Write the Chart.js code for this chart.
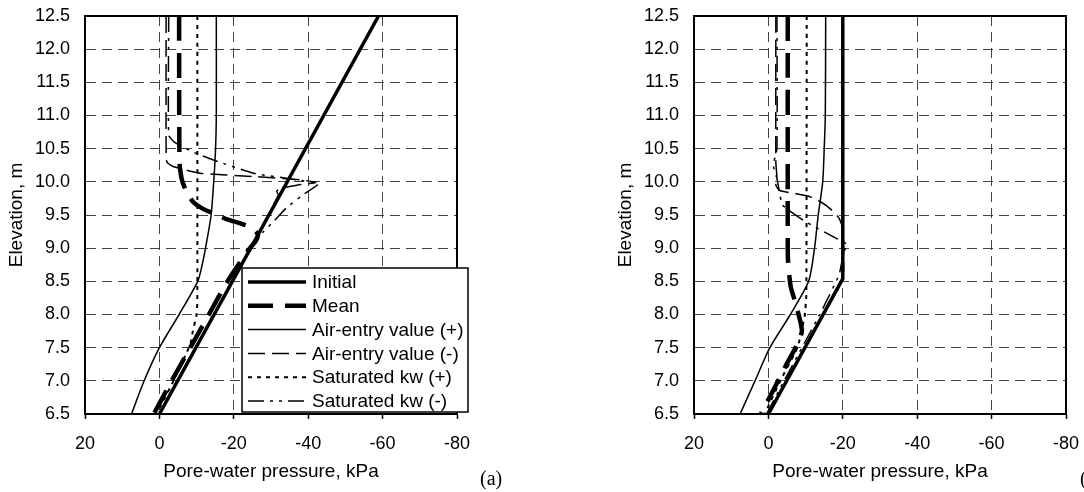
<!DOCTYPE html>
<html>
<head>
<meta charset="utf-8">
<title>Pore-water pressure profiles</title>
<script src="https://cdn.jsdelivr.net/npm/chart.js@4.4.1/dist/chart.umd.min.js"></script>
<style>
  body { margin: 0; background: #fff; width: 1084px; height: 492px; overflow: hidden; position: relative; }
  canvas { position: absolute; top: 0; }
  #chartA { left: 0; }
  #chartB { left: 609px; }
</style>
</head>
<body>
<canvas id="chartA" width="540" height="492"></canvas>
<canvas id="chartB" width="475" height="492"></canvas>
<script>
// series labels, in legend order
const seriesLabels = ['Initial', 'Mean', 'Air-entry value (+)', 'Air-entry value (-)', 'Saturated kw (+)', 'Saturated kw (-)'];

// axis limits (kPa, m)
const pwpMin = -80, pwpMax = 20, pwpStep = 20;
const elevMin = 6.5, elevMax = 12.5, elevStep = 0.5;

// ---- case (a) ----
const initialElevA = [6.5, 12.5];
const initialPwpA  = [0, -58.9];

const meanElevA = [12.5, 10.3, 10.1, 10.0, 9.85, 9.7, 9.6, 9.5, 9.43, 9.37, 9.3, 9.2, 9.1, 9.0, 8.5, 8.0, 7.5, 7.0, 6.5];
const meanPwpA  = [-5.3, -5.4, -5.8, -6.2, -7.3, -9.0, -11.5, -15.5, -18.4, -22.0, -25.0, -26.5, -25.8, -24.3, -18.3, -13.3, -8.3, -3.3, 1.5];

const aevPlusElevA = [12.5, 11.0, 10.5, 10.0, 9.5, 9.0, 8.75, 8.5, 8.0, 7.5, 7.0, 6.5];
const aevPlusPwpA  = [-15.3, -15.3, -15.1, -14.6, -13.9, -12.4, -11.5, -10.3, -5.3, 0, 4.1, 7.5];

const aevMinusElevA = [12.5, 10.5, 10.3, 10.23, 10.13, 10.08, 10.03, 9.99, 9.95, 9.9, 9.86, 9.8, 9.0, 8.0, 7.0, 6.5];
const aevMinusPwpA  = [-1.8, -1.8, -2.0, -3.7, -10.9, -25.2, -38.0, -42.0, -37.0, -32.5, -31.5, -32.0, -24.3, -14.5, -4.7, 0];

const kwPlusElevA = [12.5, 8.2, 8.0, 7.75, 7.55, 7.0, 6.5];
const kwPlusPwpA  = [-10.2, -10.2, -10.0, -9.0, -8.3, -3.8, 0.8];

const kwMinusElevA = [12.5, 10.7, 10.6, 10.45, 10.33, 10.13, 10.03, 9.97, 9.8, 9.6, 9.42, 9.25, 9.1, 8.0, 7.0, 6.5];
const kwMinusPwpA  = [-2.5, -2.5, -4.0, -9.0, -14.5, -25.3, -37.0, -42.7, -38.5, -34.0, -31.0, -28.0, -25.8, -14.7, -4.9, 0];

// ---- case (b) ----
const initialElevB = [6.5, 8.54, 12.5];
const initialPwpB  = [0, -20, -20];

const meanElevB = [12.5, 9.0, 8.8, 8.42, 8.19, 7.77, 7.6, 7.22, 7.0, 6.5];
const meanPwpB  = [-5.2, -5.2, -5.3, -6.0, -7.2, -9.0, -8.2, -4.6, -2.6, 2.0];

const aevPlusElevB = [12.5, 11.0, 10.5, 10.0, 9.5, 9.0, 8.5, 8.0, 7.5, 7.0, 6.5];
const aevPlusPwpB  = [-15.4, -15.3, -15.0, -14.6, -13.4, -12.4, -10.8, -5.9, -0.4, 3.6, 7.6];

const aevMinusElevB = [12.5, 10.3, 10.05, 9.95, 9.87, 9.83, 9.78, 9.7, 9.6, 9.45, 9.3, 8.55, 8.0, 7.0, 6.5];
const aevMinusPwpB  = [-2.0, -2.0, -2.3, -2.0, -3.0, -6.5, -11.0, -14.0, -16.5, -19.0, -20.0, -20.0, -14.7, -4.9, 0];

const kwPlusElevB = [12.5, 8.3, 8.0, 7.77, 7.5, 7.0, 6.5];
const kwPlusPwpB  = [-10.3, -10.2, -9.8, -9.0, -7.8, -3.2, 1.0];

const kwMinusElevB = [12.5, 10.5, 10.25, 10.05, 9.9, 9.65, 9.4, 9.17, 9.05, 8.95, 8.6, 8.0, 7.0, 6.5];
const kwMinusPwpB  = [-2.3, -2.3, -1.3, -2.3, -2.8, -3.8, -10.0, -17.5, -21.3, -20.3, -19.0, -13.8, -4.2, 0.5];

// line styles, one per series
const lineWidths = [3.5, 4.5, 1.5, 1.5, 2, 1.5];
const lineDashes = [[], [25, 12], [], [17, 7], [4, 5], [16, 6, 3, 6, 3, 6]];
const lineTension = [0, 0.25, 0.25, 0.15, 0.15, 0.15];

Chart.defaults.font.family = '"Liberation Sans", Arial, sans-serif';
Chart.defaults.color = '#000';

function toPoints(elev, pwp) {
    return elev.map((z, i) => ({ x: pwp[i], y: z }));
}

function buildDatasets(pairs) {
    return pairs.map((p, i) => ({
        label: seriesLabels[i],
        data: toPoints(p[0], p[1]),
        showLine: true,
        borderColor: '#000',
        backgroundColor: '#000',
        borderWidth: lineWidths[i],
        borderDash: lineDashes[i],
        tension: lineTension[i],
        pointRadius: 0,
        pointHoverRadius: 0
    }));
}

// plot frame plus the (a)/(b) tag under the right corner
const framePlugin = {
    id: 'frame',
    afterDraw(chart, args, opts) {
        const { ctx, chartArea: a } = chart;
        ctx.save();
        ctx.strokeStyle = '#000';
        ctx.lineWidth = 2;
        ctx.strokeRect(a.left, a.top, a.right - a.left, a.bottom - a.top);
        ctx.font = '20px "Liberation Serif", "Times New Roman", serif';
        ctx.fillStyle = '#000';
        ctx.textBaseline = 'middle';
        ctx.fillText(opts.tag, opts.tagX, 480);
        ctx.restore();
    }
};

// boxed legend sitting over the lower right of the plot
const legendBoxPlugin = {
    id: 'legendBox',
    afterDraw(chart, args, opts) {
        if (!opts.show) return;
        const { ctx, chartArea: a } = chart;
        const x = a.left + 157, y = a.top + 252, w = 226, h = 144;
        ctx.save();
        ctx.fillStyle = '#fff';
        ctx.fillRect(x, y, w, h);
        ctx.lineWidth = 1.5;
        ctx.strokeStyle = '#000';
        ctx.strokeRect(x, y, w, h);
        ctx.font = '19px "Liberation Sans", Arial, sans-serif';
        ctx.fillStyle = '#000';
        ctx.textBaseline = 'middle';
        chart.data.datasets.forEach((ds, i) => {
            const cy = y + 14 + i * 23.8;
            ctx.setLineDash(ds.borderDash);
            ctx.lineWidth = ds.borderWidth;
            ctx.beginPath();
            ctx.moveTo(x + 6, cy);
            ctx.lineTo(x + 64, cy);
            ctx.stroke();
            ctx.setLineDash([]);
            ctx.fillText(ds.label, x + 70, cy + 1);
        });
        ctx.restore();
    }
};

function makeChart(id, pairs, rightPad, tag, tagX, withLegend) {
    const ctx = document.getElementById(id).getContext('2d');
    return new Chart(ctx, {
        type: 'scatter',
        data: { datasets: buildDatasets(pairs) },
        plugins: [framePlugin, legendBoxPlugin],
        options: {
            responsive: false,
            animation: false,
            layout: { padding: { top: 16, left: 0, right: rightPad, bottom: 0 } },
            plugins: {
                legend: { display: false },
                tooltip: { enabled: false },
                frame: { tag: tag, tagX: tagX },
                legendBox: { show: withLegend }
            },
            scales: {
                x: {
                    type: 'linear',
                    min: pwpMin,
                    max: pwpMax,
                    reverse: true,
                    afterFit: s => { s.height = 78; },
                    // tall line height pushes the labels down while keeping side padding small
                    ticks: { stepSize: pwpStep, padding: 3, font: { size: 18, lineHeight: 2.4 } },
                    grid: {
                        color: '#444',
                        lineWidth: 1,
                        drawTicks: true,
                        tickLength: 5,
                        tickColor: '#000',
                        tickWidth: 1.5
                    },
                    border: { display: true, color: '#000', width: 2, dash: [10, 6] },
                    title: {
                        display: true,
                        text: 'Pore-water pressure, kPa',
                        font: { size: 19 },
                        padding: { top: 0, bottom: 9 }
                    }
                },
                y: {
                    type: 'linear',
                    min: elevMin,
                    max: elevMax,
                    afterFit: s => { s.width = 85; },
                    ticks: {
                        stepSize: elevStep,
                        padding: 5,
                        font: { size: 18 },
                        callback: v => v.toFixed(1)
                    },
                    // invisible tick marks give the gap between labels and axis
                    grid: { color: '#444', lineWidth: 1, drawTicks: true, tickLength: 10, tickColor: 'rgba(0,0,0,0)' },
                    border: { display: true, color: '#000', width: 2, dash: [10, 6] },
                    title: {
                        display: true,
                        text: 'Elevation, m',
                        font: { size: 19 },
                        padding: { top: 5, bottom: 0 }
                    }
                }
            }
        }
    });
}

makeChart('chartA', [
    [initialElevA, initialPwpA],
    [meanElevA, meanPwpA],
    [aevPlusElevA, aevPlusPwpA],
    [aevMinusElevA, aevMinusPwpA],
    [kwPlusElevA, kwPlusPwpA],
    [kwMinusElevA, kwMinusPwpA]
], 83, '(a)', 480, true);

makeChart('chartB', [
    [initialElevB, initialPwpB],
    [meanElevB, meanPwpB],
    [aevPlusElevB, aevPlusPwpB],
    [aevMinusElevB, aevMinusPwpB],
    [kwPlusElevB, kwPlusPwpB],
    [kwMinusElevB, kwMinusPwpB]
], 18, '(b)', 471, false);
</script>
</body>
</html>
